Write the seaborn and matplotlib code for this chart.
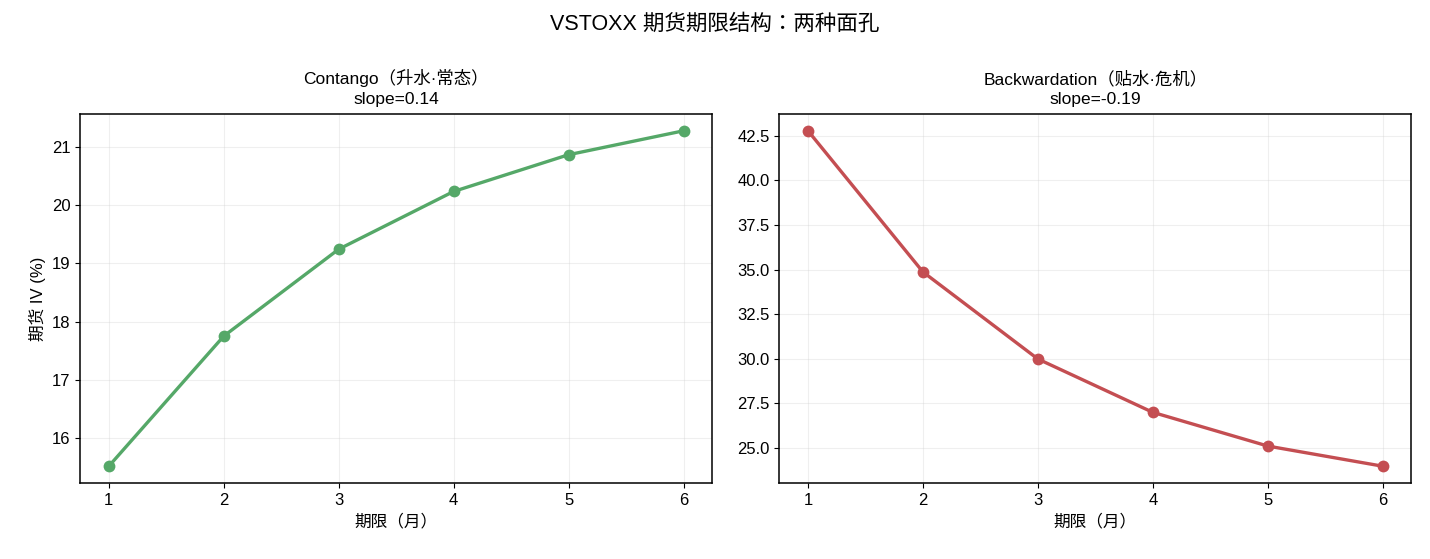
import numpy as np
import pandas as pd
import matplotlib
matplotlib.use("Agg")
import matplotlib.pyplot as plt
import seaborn as sns

# --- data ---
months = [1, 2, 3, 4, 5, 6]
contango_iv = [15.52, 17.75, 19.24, 20.23, 20.86, 21.27]
backward_iv = [42.78, 34.87, 29.99, 27.00, 25.11, 23.98]
contango_slope = 0.14
backward_slope = -0.19

sns.set_style("ticks")
plt.rcParams['font.family'] = ['Liberation Sans', 'Noto Sans CJK KR', 'DejaVu Sans']
plt.rcParams['axes.unicode_minus'] = False
for k in ('text.color', 'axes.labelcolor', 'xtick.color', 'ytick.color', 'axes.edgecolor'):
    plt.rcParams[k] = 'black'

pal = sns.color_palette("deep")
green, red = pal[2], pal[3]

fig, (ax1, ax2) = plt.subplots(1, 2, figsize=(14.3, 5.59), dpi=100)

df_c = pd.DataFrame({'month': months, 'iv': contango_iv})
df_b = pd.DataFrame({'month': months, 'iv': backward_iv})

sns.lineplot(data=df_c, x='month', y='iv', ax=ax1, color=green, marker='o',
             markersize=8.5, markeredgewidth=0, linewidth=2.4)
sns.lineplot(data=df_b, x='month', y='iv', ax=ax2, color=red, marker='o',
             markersize=8.5, markeredgewidth=0, linewidth=2.4)

ax1.set_title(f'Contango（升水·常态）\nslope={contango_slope:.2f}', fontsize=12.5, linespacing=1.45, pad=7)
ax2.set_title(f'Backwardation（贴水·危机）\nslope={backward_slope:.2f}', fontsize=12.5, linespacing=1.45, pad=7)
ax1.set_ylabel('期货 IV (%)', fontsize=12)
ax2.set_ylabel('')
for ax in (ax1, ax2):
    ax.set_xlabel('期限（月）', fontsize=12)
    ax.set_xticks(months)
    ax.grid(True, alpha=0.3)
    ax.tick_params(labelsize=12)
    for s in ax.spines.values():
        s.set_color('black')
        s.set_linewidth(1.1)

fig.suptitle('VSTOXX 期货期限结构：两种面孔', fontsize=15.5, y=0.975)
fig.subplots_adjust(left=0.056, right=0.987, top=0.796, bottom=0.136, wspace=0.106)
plt.savefig('out.png', dpi=100)
